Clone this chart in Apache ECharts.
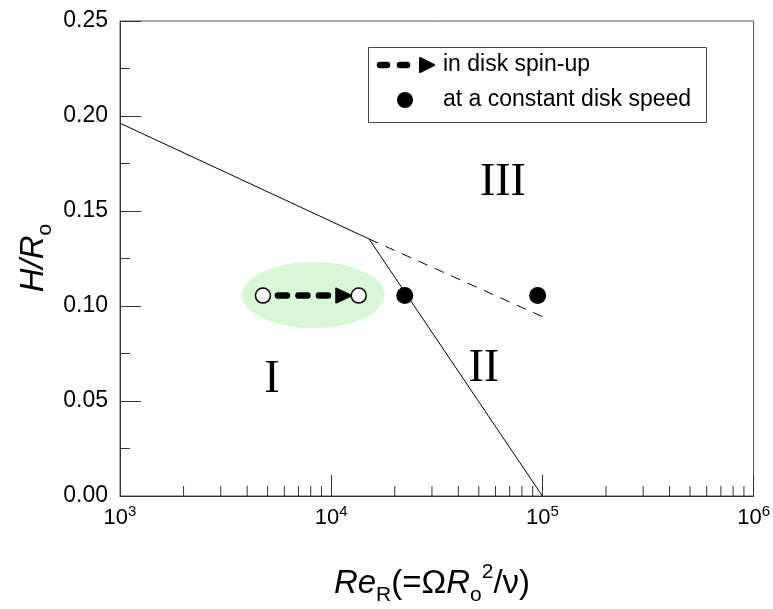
<!DOCTYPE html>
<html>
<head>
<meta charset="utf-8">
<script src="https://cdn.jsdelivr.net/npm/echarts@6/dist/echarts.min.js"></script>
<style>
  html, body { margin: 0; padding: 0; background: #fff; }
  #chart { width: 773px; height: 609px; }
</style>
</head>
<body>
<div id="chart"></div>
<script>
// regime boundaries, [Re_R, H/R_o]
const upperBoundary = [[1000, 0.1962], [15100, 0.1353]];
const lowerBoundary = [[15100, 0.1353], [100000, 0.0]];
const dashedBoundary = [[15100, 0.1353], [100000, 0.0944]];
// experiments
const constantSpeed = [[22300, 0.1055], [95000, 0.1055]];
const spinUp = [[4750, 0.1055], [13500, 0.1055]];
const spinUpArrow = [[4750, 0.1055, 13500, 0.1055]];
const spinUpHighlight = [[3780, 0.0884, 17900, 0.1232]];
// region labels
const regionNames = ['I', 'II', 'III'];
const regionPos = [[5240, 0.061], [52800, 0.0668], [65000, 0.1647]];
// log axis minor ticks
const xMinorTicks = [
  2000, 3000, 4000, 5000, 6000, 7000, 8000, 9000,
  20000, 30000, 40000, 50000, 60000, 70000, 80000, 90000,
  200000, 300000, 400000, 500000, 600000, 700000, 800000, 900000
];

const SANS = '"Liberation Sans", Arial, sans-serif';
const SERIF = '"Liberation Serif", "Times New Roman", serif';
const AXIS = '#333';

const chart = echarts.init(document.getElementById('chart'), null, { renderer: 'canvas' });

const option = {
  animation: false,
  textStyle: { fontFamily: SANS, color: '#000' },
  grid: {
    left: 120, right: 19, top: 21, bottom: 113,
    show: true, borderColor: '#555', borderWidth: 1
  },
  xAxis: {
    type: 'log',
    logBase: 10,
    min: 1000,
    max: 1000000,
    axisLine: { lineStyle: { color: AXIS, width: 1 } },
    axisTick: { inside: true, length: 21, lineStyle: { color: AXIS } },
    splitLine: { show: false },
    axisLabel: {
      margin: 8,
      formatter: v => '{b|10}{s|' + Math.round(Math.log10(v)) + '}',
      rich: {
        b: { fontSize: 22, fontFamily: SANS, color: '#000', lineHeight: 28 },
        s: { fontSize: 15, fontFamily: SANS, color: '#000', lineHeight: 15, verticalAlign: 'top' }
      }
    }
  },
  yAxis: {
    type: 'value',
    min: 0,
    max: 0.25,
    interval: 0.05,
    axisLine: { show: true, lineStyle: { color: AXIS, width: 1 } },
    axisTick: { show: true, inside: true, length: 21, lineStyle: { color: AXIS } },
    minorTick: { show: true, splitNumber: 2, length: 10, lineStyle: { color: AXIS } },
    splitLine: { show: false },
    axisLabel: {
      margin: 12,
      fontSize: 23,
      color: '#000',
      formatter: v => v.toFixed(2)
    }
  },
  graphic: [
    {
      type: 'text', x: 34, y: 258, rotation: Math.PI / 2,
      style: {
        text: '{i|H/R}{sub|o}',
        align: 'center', verticalAlign: 'middle',
        rich: {
          i: { fontSize: 33, fontStyle: 'italic', fontFamily: SANS, lineHeight: 44 },
          sub: { fontSize: 21, fontFamily: SANS, lineHeight: 22, verticalAlign: 'bottom' }
        }
      }
    },
    {
      type: 'text', x: 432, y: 584,
      style: {
        text: '{i|Re}{sub|R}{n|(=Ω}{i|R}{sub|o}{sup|2}{n|/ν)}',
        align: 'center', verticalAlign: 'middle',
        rich: {
          i: { fontSize: 33, fontStyle: 'italic', fontFamily: SANS, lineHeight: 44 },
          n: { fontSize: 33, fontFamily: SANS, lineHeight: 44 },
          sub: { fontSize: 21, fontFamily: SANS, lineHeight: 22, verticalAlign: 'bottom' },
          sup: { fontSize: 21, fontFamily: SANS, lineHeight: 22, verticalAlign: 'top' }
        }
      }
    },
    // legend box
    {
      type: 'rect', shape: { x: 368.5, y: 47.5, width: 338, height: 75 },
      style: { fill: '#fff', stroke: '#444', lineWidth: 1 }, z: 100
    },
    {
      type: 'line', shape: { x1: 380, y1: 65, x2: 408, y2: 65 },
      style: { stroke: '#000', lineWidth: 6.5, lineDash: [7, 13], lineCap: 'round' }, z: 101
    },
    {
      type: 'polygon', shape: { points: [[420, 58], [434, 65], [420, 72]] },
      style: { fill: '#000', stroke: '#000', lineWidth: 2, lineJoin: 'round' }, z: 101
    },
    {
      type: 'text', x: 443, y: 65, z: 101,
      style: { text: 'in disk spin-up', fontSize: 23, fontFamily: SANS, fill: '#000', verticalAlign: 'middle' }
    },
    {
      type: 'circle', shape: { cx: 405, cy: 100, r: 8 }, z: 101,
      style: { fill: '#000' }
    },
    {
      type: 'text', x: 443, y: 100, z: 101,
      style: { text: 'at a constant disk speed', fontSize: 23, fontFamily: SANS, fill: '#000', verticalAlign: 'middle' }
    }
  ],
  series: [
    {
      // green highlight around the spin-up run
      type: 'custom',
      data: spinUpHighlight,
      encode: { x: [0, 2], y: [1, 3] },
      z: 1,
      silent: true,
      renderItem: (params, api) => {
        const a = api.coord([api.value(0), api.value(1)]);
        const b = api.coord([api.value(2), api.value(3)]);
        return {
          type: 'ellipse',
          shape: {
            cx: (a[0] + b[0]) / 2, cy: (a[1] + b[1]) / 2,
            rx: Math.abs(b[0] - a[0]) / 2, ry: Math.abs(b[1] - a[1]) / 2
          },
          style: { fill: '#d7f8d5' }
        };
      }
    },
    {
      type: 'line', data: upperBoundary, symbol: 'none', z: 2,
      lineStyle: { color: '#000', width: 1 }
    },
    {
      type: 'line', data: lowerBoundary, symbol: 'none', z: 2,
      lineStyle: { color: '#000', width: 1 }
    },
    {
      type: 'line', data: dashedBoundary, symbol: 'none', z: 2,
      lineStyle: { color: '#000', width: 1, type: [10, 8] }
    },
    {
      // dashed arrow of the spin-up run
      type: 'custom',
      data: spinUpArrow,
      encode: { x: [0, 2], y: [1, 3] },
      z: 3,
      silent: true,
      renderItem: (params, api) => {
        const p0 = api.coord([api.value(0), api.value(1)]);
        const p1 = api.coord([api.value(2), api.value(3)]);
        const r = 7.5;
        const y = p0[1];
        const tip = p1[0] - r;
        const base = tip - 15;
        return {
          type: 'group',
          children: [
            {
              type: 'line',
              shape: { x1: p0[0] + r + 7.5, y1: y, x2: base - 2, y2: y },
              style: { stroke: '#000', lineWidth: 6.5, lineDash: [9, 11.5], lineCap: 'round' }
            },
            {
              type: 'polygon',
              shape: { points: [[base, y - 7], [tip, y], [base, y + 7]] },
              style: { fill: '#000', stroke: '#000', lineWidth: 2, lineJoin: 'round' }
            }
          ]
        };
      }
    },
    {
      type: 'scatter', data: spinUp, symbol: 'circle', symbolSize: 15, z: 4,
      itemStyle: { color: '#fff', borderColor: '#000', borderWidth: 1.5, opacity: 1 }
    },
    {
      type: 'scatter', data: constantSpeed, symbol: 'circle', symbolSize: 17, z: 4,
      itemStyle: { color: '#000', opacity: 1 }
    },
    {
      type: 'scatter',
      data: regionPos.map((p, i) => ({ value: p, name: regionNames[i] })),
      symbolSize: 0,
      z: 5,
      itemStyle: { opacity: 1 },
      label: {
        show: true, position: 'inside', formatter: '{b}',
        fontFamily: SERIF, fontSize: 46, color: '#000', opacity: 1
      }
    },
    {
      // minor ticks of the log axis
      type: 'custom',
      data: xMinorTicks.map(v => [v, 0]),
      encode: { x: 0, y: 1 },
      clip: false,
      silent: true,
      z: 6,
      renderItem: (params, api) => {
        const c = api.coord([api.value(0), 0]);
        return {
          type: 'line',
          shape: { x1: c[0], y1: c[1], x2: c[0], y2: c[1] - 10 },
          style: { stroke: AXIS, lineWidth: 1 }
        };
      }
    }
  ]
};

option && chart.setOption(option);
</script>
</body>
</html>
